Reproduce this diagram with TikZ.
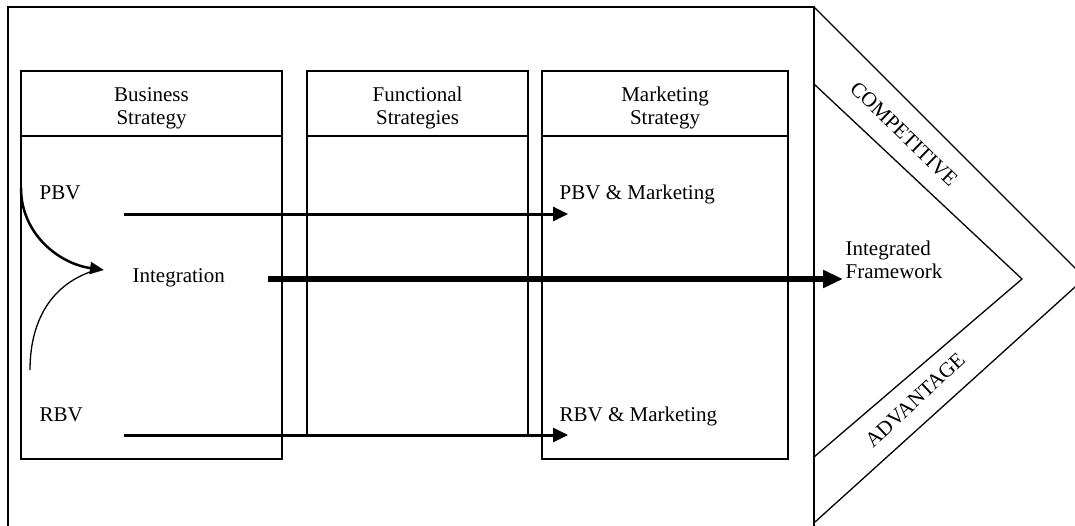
\documentclass[tikz,border=0pt]{standalone}
\usepackage{fontspec}
\setmainfont{Liberation Serif}
\usetikzlibrary{arrows.meta,positioning}

\begin{document}
\begin{tikzpicture}[x=1pt,y=-1pt,line width=1.3pt,
    txt/.style={font=\fontsize{21}{23}\selectfont,inner sep=0pt},
    head/.style={txt,align=center},
    flow/.style={line width=3pt,-{Triangle[length=15pt,width=14pt]}},
    bigflow/.style={line width=6pt,-{Triangle[length=20pt,width=17pt]}}]
      \useasboundingbox (0,0) rectangle (1075,525);
      \clip (0,0) rectangle (1075,525);
      % Outer frame and chevron
      \draw (8,540) -- (8,7) -- (814,7) -- (814,540);
      \draw (814,7) -- (1085,278) -- (815,522);
      \draw (814,84) -- (1022,279) -- (814,457);
      \node[txt,rotate=-44] (comp) at (904,134) {COMPETITIVE};
      \node[txt,rotate=43] (adv) at (915,400) {ADVANTAGE};
      % Strategy boxes
      \draw (21,71) rectangle (282,459);
      \draw (21,136) -- (282,136);
      \draw (307,435) -- (307,71) -- (528,71) -- (528,435);
      \draw (307,136) -- (528,136);
      \draw (542,71) rectangle (788,459);
      \draw (542,136) -- (788,136);
      \node[head] (bs) at (151.5,108) {Business\\Strategy};
      \node[head] (fs) at (417.5,108) {Functional\\Strategies};
      \node[head] (ms) at (665,108) {Marketing\\Strategy};
      % Labels
      \node[txt,anchor=base west] (pbv) at (39,199) {PBV};
      \node[txt,anchor=base west] (rbv) at (39,421) {RBV};
      \node[txt,anchor=base west] (integ) at (132,282) {Integration};
      \node[txt,anchor=base west] (pbvm) at (559,199) {PBV \& Marketing};
      \node[txt,anchor=base west] (rbvm) at (559,421) {RBV \& Marketing};
      \node[txt,anchor=base west,align=left] (frame) at (845,278) {Integrated\\Framework};
      % Arrows
      \coordinate (pbvfrom) at (124,214);
      \coordinate (pbvto) at (568,214);
      \coordinate (rbvfrom) at (124,435);
      \coordinate (rbvto) at (568,435);
      \coordinate (intfrom) at (268,279);
      \coordinate (intto) at (843,279);
      \coordinate (topcurve) at (21,188);
      \coordinate (curvetip) at (104,270);
      \coordinate (lowcurve) at (30,370);
      \coordinate (curveend) at (90,272);
      \draw[flow] (pbvfrom) -- (pbvto);
      \draw[flow] (rbvfrom) -- (rbvto);
      \draw[bigflow] (intfrom) -- (intto);
      \draw[line width=2.5pt,-{Triangle[length=14pt,width=12pt]}] (topcurve) to[out=-90,in=172] (curvetip);
      \draw (lowcurve) to[out=90,in=200] (curveend);
\end{tikzpicture}
\end{document}
